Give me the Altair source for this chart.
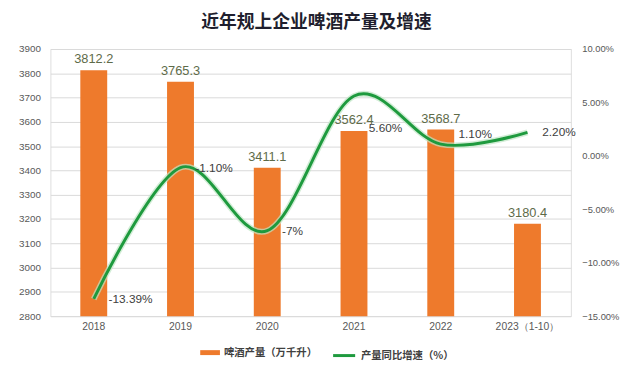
import altair as alt
import pandas as pd

categories = ["2018", "2019", "2020", "2021", "2022", "2023（1-10）"]
output = [3812.2, 3765.3, 3411.1, 3562.4, 3568.7, 3180.4]
growth = [-13.39, -1.10, -7.0, 5.60, 1.10, 2.20]
growth_labels = ["-13.39%", "-1.10%", "-7%", "5.60%", "1.10%", "2.20%"]
bar_name = "啤酒产量（万千升）"
line_name = "产量同比增速（%）"

df = pd.DataFrame({
    "year": categories,
    "output": output,
    "growth": growth,
    "glabel": growth_labels,
    "bar_s": bar_name,
    "line_s": line_name,
})

FONT = "Noto Sans CJK SC"
NUMFONT = "Liberation Sans"
ORANGE = "#ee7a2c"
GREEN = "#1e9a3e"

x = alt.X("year:N", sort=categories, title=None,
          scale=alt.Scale(paddingInner=0.69, paddingOuter=0.345),
          axis=alt.Axis(labelAngle=0, ticks=False, domain=False, grid=False, labelFontSize=10.5,
                        labelColor="#595959", labelFont=NUMFONT, labelPadding=6))

yleft = alt.Y("output:Q", title=None,
              scale=alt.Scale(domain=[2800, 3900], nice=False, zero=False),
              axis=alt.Axis(orient="left", values=list(range(2800, 3901, 100)), format="d",
                            grid=True, gridColor="#d9d9d9", domain=False, ticks=False,
                            labelFontSize=10, labelColor="#595959", labelFont=NUMFONT,
                            labelPadding=10))

yright = alt.Y("growth:Q", title=None,
               scale=alt.Scale(domain=[-15, 10], nice=False, zero=False),
               axis=alt.Axis(orient="right", values=[-15, -10, -5, 0, 5, 10],
                             grid=False, domain=False, domainColor="transparent",
                             domainOpacity=0, domainWidth=0, ticks=False, tickOpacity=0,
                             labelExpr="format(datum.value, '.2f') + '%'",
                             labelFontSize=9.5, labelColor="#595959", labelFont=NUMFONT,
                             labelPadding=11))

base = alt.Chart(df)

bars = base.mark_bar(clip=True).encode(
    x=x,
    y=yleft,
    color=alt.Color("bar_s:N", scale=alt.Scale(domain=[bar_name], range=[ORANGE]),
                    legend=alt.Legend(title=None, orient="none", legendX=152, legendY=298,
                                      symbolType="M-1,-0.25H1V0.25H-1Z", symbolSize=400,
                                      symbolStrokeWidth=0, labelFont=FONT, labelFontSize=10.5,
                                      labelColor="#404040", labelFontWeight="bold")),
)

bar_text = base.mark_text(dy=-11, fontSize=13, color="#5e6b49", font=NUMFONT).encode(
    x=x,
    y=yleft,
    text=alt.Text("output:Q", format=".1f"),
)

left_layer = alt.layer(bars, bar_text)

halo = base.mark_line(interpolate="cardinal", strokeWidth=6, color="#bfe6c4", opacity=0.7).encode(
    x=x, y=yright,
)

line = base.mark_line(interpolate="cardinal", strokeWidth=3).encode(
    x=x,
    y=yright,
    color=alt.Color("line_s:N", scale=alt.Scale(domain=[line_name], range=[GREEN]),
                    legend=alt.Legend(title=None, orient="none", legendX=285, legendY=298,
                                      symbolType="stroke", symbolSize=500, symbolStrokeWidth=3,
                                      labelFont=FONT, labelFontSize=10.5,
                                      labelColor="#404040", labelFontWeight="bold")),
)

lt_main = base.transform_filter(
    "datum.year != '2021' && datum.year != '2022'"
).mark_text(align="left", dx=15, dy=0, fontSize=12, color="#404040", font=NUMFONT).encode(
    x=x, y=yright, text="glabel:N")
lt_2021 = base.transform_filter("datum.year == '2021'").mark_text(
    align="left", dx=15, dy=32, fontSize=12, color="#404040", font=NUMFONT).encode(
    x=x, y=yright, text="glabel:N")
lt_2022 = base.transform_filter("datum.year == '2022'").mark_text(
    align="left", dx=18, dy=-10, fontSize=12, color="#404040", font=NUMFONT).encode(
    x=x, y=yright, text="glabel:N")

right_layer = alt.layer(halo, line, lt_main, lt_2021, lt_2022)

chart = alt.layer(left_layer, right_layer).resolve_scale(
    y="independent", color="independent"
).properties(
    width=528,
    height=271,
    autosize=alt.AutoSizeParams(type="none"),
    padding={"left": 43, "top": 39, "right": 60, "bottom": 50},
    title=alt.Title("近年规上企业啤酒产量及增速", font=FONT, fontSize=18, fontWeight="bold",
                    color="#1f1f2e", anchor="middle", offset=6, dx=6, dy=-6),
).configure_view(stroke=None).configure_axis(
    domain=False, domainOpacity=0
).configure_axisRight(domain=False, ticks=False).configure(background="white")

chart.save("out.html", embed_options={"renderer": "svg", "actions": False})
